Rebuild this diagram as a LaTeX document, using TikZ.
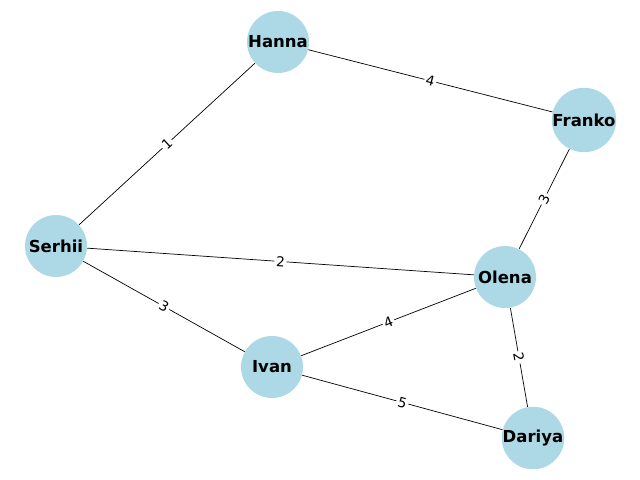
\documentclass[tikz,border=0pt]{standalone}
\usepackage{fontspec}
\setmainfont{DejaVu Sans}

\definecolor{lightblue}{RGB}{173,216,230}
\tikzset{
  person/.style={circle, fill=lightblue, minimum size=1.24cm, inner sep=0pt, font=\fontsize{9.4}{10}\selectfont\bfseries},
  wlabel/.style={midway, sloped, fill=white, inner sep=1pt, font=\fontsize{7.8}{8}\selectfont}
}

\begin{document}
\begin{tikzpicture}[x=0.02cm, y=-0.02cm]
        \useasboundingbox (0,0) rectangle (640,480);
        \node[person](hanna) at (278,42){Hanna};
        \node[person](franko) at (584,120){Franko};
        \node[person](serhii) at (56,246){Serhii};
        \node[person](olena) at (505,277){Olena};
        \node[person](ivan) at (272,367){Ivan};
        \node[person](dariya) at (533,438){Dariya};
        \draw (hanna)--(franko) node[wlabel]{4};
        \draw (hanna)--(serhii) node[wlabel]{1};
        \draw (franko)--(olena) node[wlabel]{3};
        \draw (serhii)--(olena) node[wlabel]{2};
        \draw (serhii)--(ivan) node[wlabel]{3};
        \draw (olena)--(ivan) node[wlabel]{4};
        \draw (olena)--(dariya) node[wlabel]{2};
        \draw (ivan)--(dariya) node[wlabel]{5};
    \end{tikzpicture}
\end{document}
